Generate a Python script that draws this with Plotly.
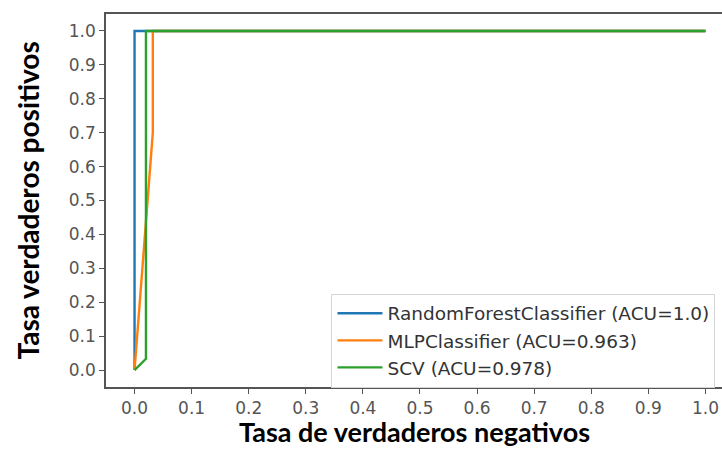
import plotly.graph_objects as go

# ROC curve points (false-positive rate, true-positive rate) per classifier
rf_name = "RandomForestClassifier (ACU=1.0)"
rf_fpr = [0.0, 0.0, 1.0]
rf_tpr = [0.0, 1.0, 1.0]

mlp_name = "MLPClassifier (ACU=0.963)"
mlp_fpr = [0.0, 0.032, 0.032, 1.0]
mlp_tpr = [0.0, 0.70, 1.0, 1.0]

svc_name = "SCV (ACU=0.978)"
svc_fpr = [0.0, 0.02, 0.02, 1.0]
svc_tpr = [0.0, 0.033, 1.0, 1.0]

tick_vals = [i / 10 for i in range(11)]
tick_text = [f"{v:.1f}" for v in tick_vals]

x_title = "Tasa de verdaderos negativos"
y_title = "Tasa verdaderos positivos"

colors = ["#1f77b4", "#ff7f0e", "#2ca02c"]

fig = go.Figure()
for name, xs, ys, c in [
    (rf_name, rf_fpr, rf_tpr, colors[0]),
    (mlp_name, mlp_fpr, mlp_tpr, colors[1]),
    (svc_name, svc_fpr, svc_tpr, colors[2]),
]:
    fig.add_trace(go.Scatter(x=xs, y=ys, mode="lines", name=name,
                             line=dict(color=c, width=2.4)))

tick_font = dict(family="DejaVu Sans", size=17, color="#555555")

fig.update_layout(
    width=722, height=450,
    margin=dict(l=106, r=0, t=14, b=63),
    paper_bgcolor="white", plot_bgcolor="white",
    showlegend=True,
    legend=dict(
        x=0.366, y=0.25, xanchor="left", yanchor="top",
        bgcolor="rgba(255,255,255,0.85)",
        bordercolor="#d6d6d6", borderwidth=1,
        font=dict(family="DejaVu Sans", size=18.5, color="#333333"),
        tracegroupgap=0, itemwidth=45,
    ),
    xaxis=dict(
        range=[-0.05, 1.029], tickvals=tick_vals, ticktext=tick_text,
        showgrid=False, zeroline=False,
        showline=True, linecolor="#555555", linewidth=1.5, mirror=True,
        ticks="outside", ticklen=5, tickcolor="#555555", tickwidth=1.2,
        tickfont=tick_font,
    ),
    yaxis=dict(
        range=[-0.05, 1.05], tickvals=tick_vals, ticktext=tick_text,
        showgrid=False, zeroline=False,
        showline=True, linecolor="#555555", linewidth=1.5, mirror=False,
        ticks="outside", ticklen=5, tickcolor="#555555", tickwidth=1.2,
        tickfont=tick_font,
    ),
    annotations=[
        dict(text=f"<b>{x_title}</b>", xref="paper", yref="paper",
             x=0.5, y=-0.169, xanchor="center", yanchor="bottom",
             showarrow=False,
             font=dict(family="Lato", size=27, color="#000000")),
        dict(text=f"<b>{y_title}</b>", xref="paper", yref="paper",
             x=0, y=0.5, xanchor="right", yanchor="middle", xshift=-60,
             textangle=-90, showarrow=False,
             font=dict(family="Lato", size=28, color="#000000")),
    ],
)

fig.write_html("out.html")
